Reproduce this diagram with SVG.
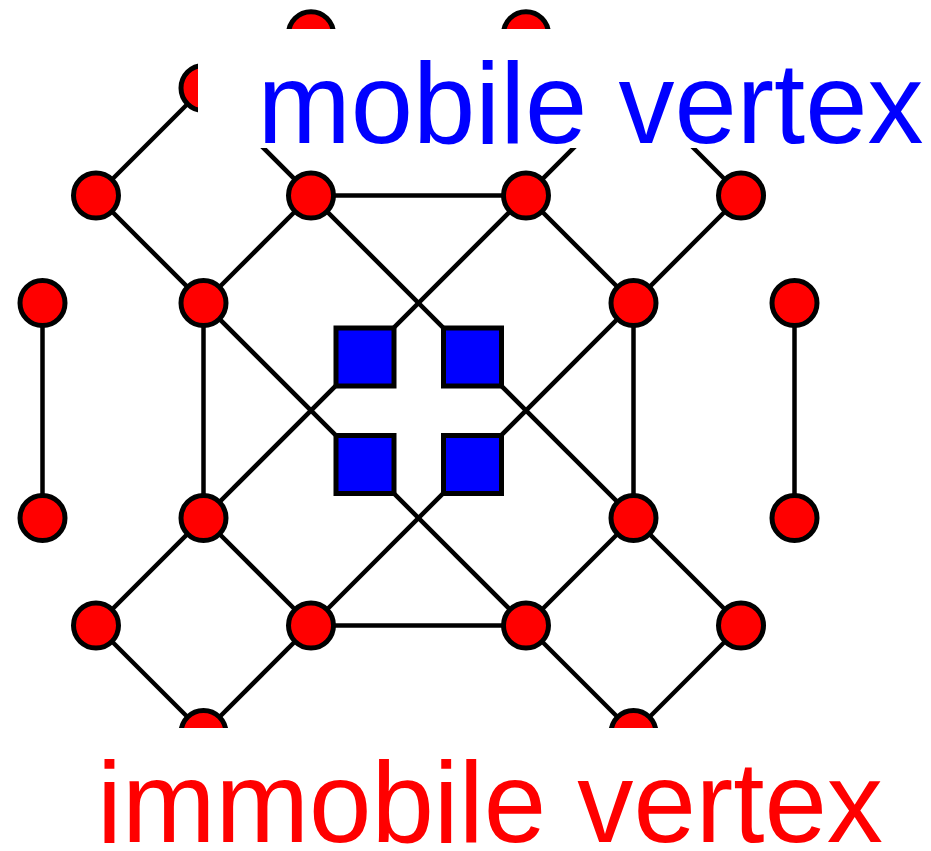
<svg xmlns="http://www.w3.org/2000/svg" width="931" height="851" viewBox="0 0 931 851">
<style>
.e{stroke:#000;stroke-width:4.5;fill:none;stroke-linecap:butt}
.v{fill:#ff0000;stroke:#000;stroke-width:5}
.m{fill:#0000ff;stroke:#000;stroke-width:5}
.lbl{font-family:"Liberation Sans","DejaVu Sans",sans-serif;font-size:115px}
</style>
<rect width="931" height="851" fill="#fff"/>
<g id="connectors">
<line class="e" x1="96" y1="195.5" x2="203.5" y2="88"/>
<line class="e" x1="96" y1="195.5" x2="526" y2="625.5"/>
<line class="e" x1="203.5" y1="88" x2="741" y2="625.5"/>
<line class="e" x1="741" y1="195.5" x2="633.5" y2="88"/>
<line class="e" x1="96" y1="625.5" x2="633.5" y2="88"/>
<line class="e" x1="311" y1="625.5" x2="741" y2="195.5"/>
<line class="e" x1="203.5" y1="733" x2="311" y2="625.5"/>
<line class="e" x1="96" y1="625.5" x2="203.5" y2="733"/>
<line class="e" x1="526" y1="625.5" x2="633.5" y2="733"/>
<line class="e" x1="741" y1="625.5" x2="633.5" y2="733"/>
<line class="e" x1="203.5" y1="518" x2="311" y2="625.5"/>
<line class="e" x1="526" y1="625.5" x2="633.5" y2="518"/>
<line class="e" x1="203.5" y1="303" x2="311" y2="195.5"/>
<line class="e" x1="526" y1="195.5" x2="633.5" y2="303"/>
<line class="e" x1="203.5" y1="303" x2="203.5" y2="518"/>
<line class="e" x1="633.5" y1="303" x2="633.5" y2="518"/>
<line class="e" x1="42.5" y1="303" x2="42.5" y2="518"/>
<line class="e" x1="794.5" y1="303" x2="794.5" y2="518"/>
<line class="e" x1="311" y1="195.5" x2="526" y2="195.5"/>
<line class="e" x1="311" y1="625.5" x2="526" y2="625.5"/>
</g>
<g id="n-top1"><circle class="v" cx="311" cy="34.25" r="22.5"/></g>
<g id="n-top2"><circle class="v" cx="526" cy="34.25" r="22.5"/></g>
<g id="n-a"><circle class="v" cx="203.5" cy="88" r="22.5"/></g>
<g id="n-b"><circle class="v" cx="96" cy="195.5" r="22.5"/></g>
<g id="n-c"><circle class="v" cx="311" cy="195.5" r="22.5"/></g>
<g id="n-d"><circle class="v" cx="526" cy="195.5" r="22.5"/></g>
<g id="n-e"><circle class="v" cx="741" cy="195.5" r="22.5"/></g>
<g id="n-f"><circle class="v" cx="42.5" cy="303" r="22.5"/></g>
<g id="n-g"><circle class="v" cx="203.5" cy="303" r="22.5"/></g>
<g id="n-h"><circle class="v" cx="633.5" cy="303" r="22.5"/></g>
<g id="n-i"><circle class="v" cx="794.5" cy="303" r="22.5"/></g>
<g id="n-j"><circle class="v" cx="42.5" cy="518" r="22.5"/></g>
<g id="n-k"><circle class="v" cx="203.5" cy="518" r="22.5"/></g>
<g id="n-l"><circle class="v" cx="633.5" cy="518" r="22.5"/></g>
<g id="n-m"><circle class="v" cx="794.5" cy="518" r="22.5"/></g>
<g id="n-n"><circle class="v" cx="96" cy="625.5" r="22.5"/></g>
<g id="n-o"><circle class="v" cx="311" cy="625.5" r="22.5"/></g>
<g id="n-p"><circle class="v" cx="526" cy="625.5" r="22.5"/></g>
<g id="n-q"><circle class="v" cx="741" cy="625.5" r="22.5"/></g>
<g id="n-r"><circle class="v" cx="203.5" cy="733" r="22.5"/></g>
<g id="n-s"><circle class="v" cx="633.5" cy="733" r="22.5"/></g>
<g id="m-tl"><rect class="m" x="336" y="328" width="58" height="58"/></g>
<g id="m-tr"><rect class="m" x="443.5" y="328" width="58" height="58"/></g>
<g id="m-bl"><rect class="m" x="336" y="435.5" width="58" height="58"/></g>
<g id="m-br"><rect class="m" x="443.5" y="435.5" width="58" height="58"/></g>
<g id="label-mobile">
<rect x="198" y="29" width="733" height="119" fill="#fff"/>
<text class="lbl" x="257.5" y="143" fill="#0000ff" textLength="666" lengthAdjust="spacingAndGlyphs">mobile vertex</text>
</g>
<g id="label-immobile">
<rect x="0" y="728" width="931" height="123" fill="#fff"/>
<text class="lbl" x="97" y="842" fill="#ff0000" textLength="786" lengthAdjust="spacingAndGlyphs">immobile vertex</text>
</g>
</svg>
